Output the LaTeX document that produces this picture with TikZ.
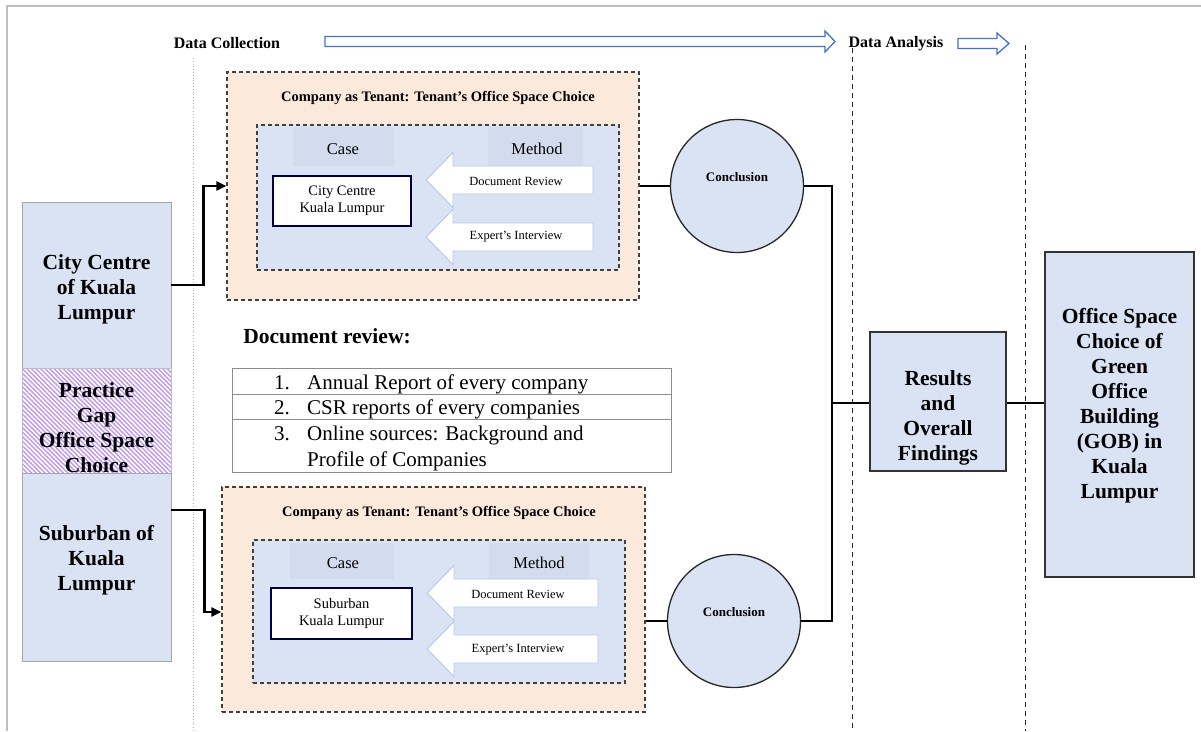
\documentclass[tikz,border=0pt]{standalone}
\usepackage{fontspec}
\setmainfont{Liberation Serif}
\usetikzlibrary{arrows.meta,patterns.meta,calc}
\definecolor{lblue}{HTML}{DAE3F3}
\definecolor{hblue}{HTML}{D3DCEE}
\definecolor{peach}{HTML}{FBE9DC}
\definecolor{arrowblue}{HTML}{4472C4}
\definecolor{pale}{HTML}{B4C7E7}
\definecolor{hatchc}{HTML}{BE98F0}
\newcommand{\fs}[2]{\fontsize{#1}{#2}\selectfont}
\newcommand{\hlarrow}[3]{%
  \draw[marrow] (#1,#2) -- (#1+27,#2-27.5) -- (#1+27,#2-14) -- (#3,#2-14) -- (#3,#2+14) -- (#1+27,#2+14) -- (#1+27,#2+27.5) -- cycle;}
\begin{document}
\begin{tikzpicture}[x=1pt,y=-1pt,
  frameline/.style={draw=black!25, line width=1.5pt},
  hdr/.style={font=\fs{16}{18}\bfseries, inner sep=0},
  bluearrow/.style={draw=arrowblue, line width=1.3pt, fill=white},
  orangebox/.style={draw=black!75, dash pattern=on 4pt off 3pt, line width=1.2pt, fill=peach, inner sep=0},
  innerbox/.style={draw=black!75, dash pattern=on 4pt off 3pt, line width=1.2pt, fill=lblue, inner sep=0},
  cell/.style={fill=hblue, inner sep=0},
  celltext/.style={font=\fs{16.5}{19}, inner sep=0},
  title/.style={font=\fs{14.5}{17}\bfseries, inner sep=0},
  casebox/.style={draw=black!75!blue, line width=1.1pt, fill=white, align=center, font=\fs{14.5}{17}, inner sep=0},
  marrow/.style={draw=pale, line width=0.9pt, fill=white},
  mtext/.style={font=\fs{12.5}{15}, inner sep=0},
  leftbox/.style={draw=black!35, line width=0.8pt, fill=lblue, inner sep=0},
  hatchbox/.style={draw=black!25, line width=0.8pt, preaction={fill=white}, pattern={Lines[angle=-45,distance=3.2pt,line width=1.4pt]}, pattern color=hatchc, inner sep=0},
  bigtext/.style={font=\fs{21.5}{25}\bfseries, align=center, inner sep=0},
  circ/.style={circle, draw=black!85, line width=1.3pt, fill=lblue, minimum size=133pt, inner sep=0},
  concl/.style={font=\fs{13}{15}\bfseries, inner sep=0},
  rbox/.style={draw=black!80, line width=1.4pt, fill=lblue, inner sep=0},
  conn/.style={draw=black, line width=2.2pt},
  tip/.style={-{Triangle[length=10pt,width=9pt]}},
  row/.style={draw=black!45, line width=1pt, inner sep=0},
  item/.style={font=\fs{21}{26}, inner sep=0},
  vdash/.style={draw=black!85, line width=0.9pt, dash pattern=on 5pt off 4pt}
]
\useasboundingbox (0,0) rectangle (1201,731);
% frame
\draw[frameline] (7,731) -- (7,6) -- (1201,6);

% phase headers
\node[hdr] (dc) at (227,43) {Data Collection};
\node[hdr] (da) at (896,44) {Data Analysis};
\draw[bluearrow] (325,36.5) -- (825,36.5) -- (825,31) -- (835,41.5) -- (825,52) -- (825,46.5) -- (325,46.5) -- cycle;
\draw[bluearrow] (958,38.5) -- (997,38.5) -- (997,33) -- (1009,43.5) -- (997,54) -- (997,48.5) -- (958,48.5) -- cycle;

% separators
\draw[draw=black!30, line width=0.8pt, dotted] (193,58) -- (193,731);
\draw[vdash] (852,48) -- (852,731);
\draw[vdash] (1025,45) -- (1025,731);

% upper case study
\node[orangebox, minimum width=412pt, minimum height=228pt] (ob1) at (433,186) {};
\node[title] (t1) at (438,98) {Company as Tenant: Tenant’s Office Space Choice};
\node[innerbox, minimum width=362pt, minimum height=145pt] (ib1) at (438,197.5) {};
\node[cell, minimum width=101pt, minimum height=39pt] (cc1) at (343.5,146.5) {};
\node[cell, minimum width=95pt, minimum height=39pt] (mc1) at (535.5,146.5) {};
\node[celltext] (case1) at (343,149) {Case};
\node[celltext] (meth1) at (537,149) {Method};
\node[casebox, minimum width=138pt, minimum height=50pt] (cb1) at (342,201) {City Centre\\Kuala Lumpur};
\hlarrow{426}{180}{593}
\node[mtext] (dr1) at (516,181) {Document Review};
\hlarrow{426}{237}{593}
\node[mtext] (ei1) at (516,237) {Expert’s Interview};

% lower case study
\node[orangebox, minimum width=423pt, minimum height=225pt] (ob2) at (433.5,599.5) {};
\node[title] (t2) at (439,513) {Company as Tenant: Tenant’s Office Space Choice};
\node[innerbox, minimum width=372pt, minimum height=143pt] (ib2) at (439,611.5) {};
\node[cell, minimum width=104pt, minimum height=36pt] (cc2) at (342,561) {};
\node[cell, minimum width=100pt, minimum height=36pt] (mc2) at (539,561) {};
\node[celltext] (case2) at (343,563) {Case};
\node[celltext] (meth2) at (539,563) {Method};
\node[casebox, minimum width=141pt, minimum height=51pt] (cb2) at (341.5,613.5) {Suburban\\Kuala Lumpur};
\hlarrow{427}{593}{598}
\node[mtext] (dr2) at (518,594) {Document Review};
\hlarrow{427}{649}{598}
\node[mtext] (ei2) at (518,650) {Expert’s Interview};

% left column
\node[leftbox, minimum width=149pt, minimum height=166pt,
  label={[bigtext,yshift=-4pt]center:City Centre\\of Kuala\\Lumpur}] (city) at (96.5,285) {};
\node[hatchbox, minimum width=149pt, minimum height=105pt,
  label={[bigtext,yshift=-7pt]center:Practice\\Gap\\Office Space\\Choice}] (gap) at (96.5,420.5) {};
\node[leftbox, minimum width=149pt, minimum height=188pt,
  label={[bigtext,yshift=7pt]center:Suburban of\\Kuala\\Lumpur}] (suburb) at (96.5,567) {};

% document review list
\node[font=\fs{21.5}{25}\bfseries, inner sep=0] (drt) at (327,336) {Document review:};
\node[row, minimum width=439pt, minimum height=26pt] (r1) at (451.5,381) {};
\node[row, minimum width=439pt, minimum height=25pt] (r2) at (451.5,406.5) {};
\node[row, minimum width=439pt, minimum height=53pt] (r3) at (451.5,445.5) {};
\node[item, anchor=base east] (n1) at (290,389) {1.};
\node[item, anchor=base west] (i1) at (307,389) {Annual Report of every company};
\node[item, anchor=base east] (n2) at (290,414) {2.};
\node[item, anchor=base west] (i2) at (307,414) {CSR reports of every companies};
\node[item, anchor=base east] (n3) at (290,440) {3.};
\node[item, anchor=base west] (i3) at (307,440) {Online sources: Background and};
\node[item, anchor=base west] (i3b) at (307,466) {Profile of Companies};

% conclusions
\node[circ, label={[concl,yshift=9pt]center:Conclusion}] (circ1) at (737,186) {};
\node[circ, label={[concl,yshift=9pt]center:Conclusion}] (circ2) at (734,621) {};

% analysis
\node[rbox, minimum width=136pt, minimum height=139pt,
  label={[bigtext,yshift=-16pt]center:Results\\and\\Overall\\Findings}] (res) at (938,401.5) {};
\node[rbox, minimum width=149pt, minimum height=325pt,
  label={[bigtext,yshift=9pt]center:Office Space\\Choice of\\Green\\Office\\Building\\(GOB) in\\Kuala\\Lumpur}] (gob) at (1119.5,414.5) {};

% connectors
\draw[conn,tip] (city.east) -- ++(32,0) |- (ob1.west);
\draw[conn,tip] ([yshift=57pt]suburb.east) -- ++(33,0) |- ([yshift=-12.5pt]ob2.west);
\draw[conn] (ob1.east) -- (circ1.west);
\draw[conn] (circ2.west -| ob2.east) -- (circ2.west);
\coordinate (bus) at (832,403);
\draw[conn] (circ1.east) -| (bus) |- (circ2.east);
\draw[conn] (bus) -- (bus -| res.west);
\draw[conn] (bus -| res.east) -- (bus -| gob.west);
\end{tikzpicture}
\end{document}
